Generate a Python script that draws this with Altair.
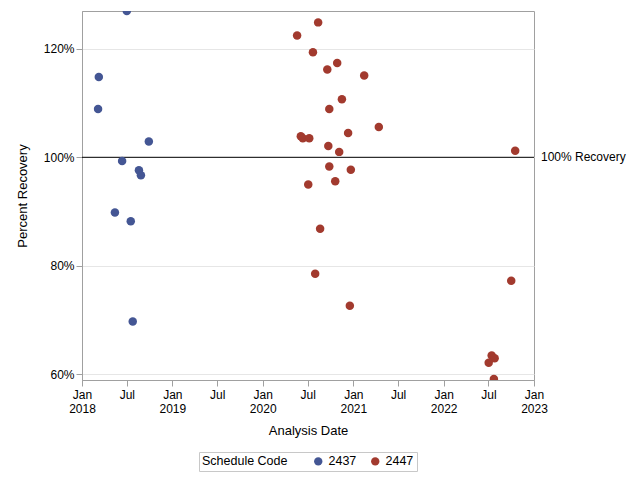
import altair as alt
import pandas as pd

blue_dates = ["2018-07-01", "2018-03-10", "2018-03-07", "2018-09-28", "2018-06-12",
              "2018-08-19", "2018-08-27", "2018-05-14", "2018-07-17", "2018-07-25"]
blue_values = [127.0, 114.8, 108.9, 102.9, 99.3, 97.6, 96.7, 89.8, 88.2, 69.7]

red_dates = ["2020-08-12", "2020-05-19", "2020-07-22", "2020-09-18", "2020-10-28",
             "2021-02-14", "2020-11-16", "2020-09-26", "2021-04-14", "2020-12-11",
             "2020-06-03", "2020-06-11", "2020-07-07", "2020-09-22", "2020-11-05",
             "2022-10-17", "2020-09-26", "2020-12-22", "2020-10-20", "2020-07-03",
             "2020-08-20", "2020-07-31", "2020-12-18", "2022-10-01", "2022-07-14",
             "2022-07-26", "2022-07-02", "2022-07-23"]
red_values = [124.9, 122.5, 119.4, 116.2, 117.4,
              115.1, 110.7, 108.9, 105.6, 104.5,
              103.9, 103.5, 103.5, 102.1, 101.0,
              101.2, 98.3, 97.7, 95.6, 95.0,
              86.8, 78.5, 72.6, 77.2, 63.4,
              62.9, 62.1, 59.1]

codes = ["2437", "2447"]
colors = ["#445694", "#A23A2E"]
ref_value = 100
ref_label = "100% Recovery"

df = pd.DataFrame({
    "date": blue_dates + red_dates,
    "value": blue_values + red_values,
    "code": [codes[0]] * len(blue_dates) + [codes[1]] * len(red_dates),
})

font = "Liberation Sans"
W, H = 452, 369

tick_vals = []
for y in range(2018, 2023):
    tick_vals.append(alt.DateTime(year=y, month=1, date=1, utc=True))
    tick_vals.append(alt.DateTime(year=y, month=7, date=1, utc=True))
tick_vals.append(alt.DateTime(year=2023, month=1, date=1, utc=True))

x_scale = alt.Scale(type="utc",
                    domain=[alt.DateTime(year=2018, month=1, date=1, utc=True),
                            alt.DateTime(year=2023, month=1, date=1, utc=True)],
                    nice=False)
y_scale = alt.Scale(domain=[58.9, 127.0], nice=False, zero=False)

points = alt.Chart(df).mark_circle(size=72, opacity=1, clip=True).encode(
    x=alt.X("date:T", scale=x_scale, title="Analysis Date",
            axis=alt.Axis(values=tick_vals, grid=False,
                          labelExpr="utcmonth(datum.value)==0 ? ['Jan', '' + utcyear(datum.value)] : 'Jul'",
                          labelAlign="center", labelPadding=3, tickSize=6,
                          titlePadding=10)),
    y=alt.Y("value:Q", scale=y_scale, title="Percent Recovery",
            axis=alt.Axis(values=[60, 80, 100, 120], labelExpr="datum.value + '%'",
                          grid=True, gridColor="#e6e6e6", tickSize=6, labelPadding=2,
                          titlePadding=14)),
    color=alt.Color("code:N", scale=alt.Scale(domain=codes, range=colors),
                    legend=alt.Legend(title="Schedule Code", orient="none",
                                      legendX=117, legendY=441,
                                      direction="horizontal", titleOrient="left",
                                      symbolType="circle", symbolSize=70,
                                      strokeColor="#c8c8c8", padding=3,
                                      titlePadding=24, columnPadding=12,
                                      labelFontSize=12.5, titleFontSize=12.5,
                                      titleFontWeight="normal", labelFont=font,
                                      titleFont=font, titleColor="black",
                                      labelColor="black")),
)

ref_df = pd.DataFrame({"value": [ref_value], "label": [ref_label]})
rule = alt.Chart(ref_df).mark_rule(color="black", strokeWidth=1).encode(
    y=alt.Y("value:Q", scale=y_scale))
rule_text = alt.Chart(ref_df).mark_text(align="left", baseline="middle", dx=7,
                                        fontSize=12, font=font, color="black").encode(
    x=alt.value(W), y=alt.Y("value:Q", scale=y_scale), text="label:N")

chart = alt.layer(rule, points, rule_text).properties(
    width=W, height=H,
    autosize=alt.AutoSizeParams(type="none"),
    padding={"left": 74, "top": 3, "right": 98, "bottom": 92},
).configure_view(stroke="#a0a0a0", strokeWidth=1).configure_axis(
    domainColor="#a0a0a0", tickColor="#a0a0a0", labelFont=font, titleFont=font,
    labelFontSize=12, titleFontSize=13, titleFontWeight="normal",
    labelColor="black", titleColor="black",
)

chart.save("out.html", embed_options={"renderer": "svg", "actions": False})
